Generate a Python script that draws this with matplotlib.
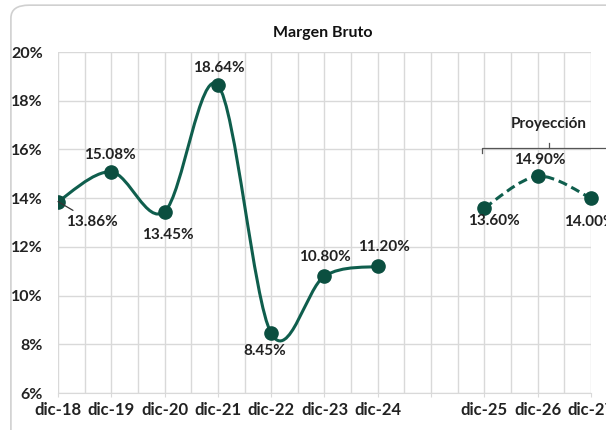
import matplotlib
matplotlib.use("Agg")
import matplotlib.pyplot as plt
from matplotlib.path import Path
from matplotlib.patches import PathPatch, FancyBboxPatch
from matplotlib.ticker import FuncFormatter, MultipleLocator

plt.rcParams['font.family'] = ['Lato', 'DejaVu Sans']

# data
categories = ["dic-18", "dic-19", "dic-20", "dic-21", "dic-22", "dic-23", "dic-24",
              "", "dic-25", "dic-26", "dic-27"]
hist_idx = [0, 1, 2, 3, 4, 5, 6]
hist_vals = [13.86, 15.08, 13.45, 18.64, 8.45, 10.80, 11.20]
proj_idx = [8, 9, 10]
proj_vals = [13.60, 14.90, 14.00]

# label offsets in pixels (dx, dy)
hist_offsets = [(34, -20), (-1, 17), (3, -23), (1, 17), (-6, -18), (0, 19), (6, 19)]
proj_offsets = [(10, -13), (2, 16), (-1, -24)]

green = "#0F5E4D"
dark = "#0B4F40"
grid_c = "#D9D9D9"


def smooth_path(xs, ys):
    # excel-like smoothed line as cubic bezier segments
    pts = list(zip(xs, ys))
    n = len(pts)
    verts = [pts[0]]
    codes = [Path.MOVETO]
    for i in range(n - 1):
        p0 = pts[i - 1] if i > 0 else pts[i]
        p1 = pts[i]
        p2 = pts[i + 1]
        p3 = pts[i + 2] if i + 2 < n else pts[i + 1]
        c1 = (p1[0] + (p2[0] - p0[0]) / 6, p1[1] + (p2[1] - p0[1]) / 6)
        c2 = (p2[0] - (p3[0] - p1[0]) / 6, p2[1] - (p3[1] - p1[1]) / 6)
        verts += [c1, c2, p2]
        codes += [Path.CURVE4] * 3
    return Path(verts, codes)


fig = plt.figure(figsize=(6.06, 4.30), dpi=100)
frame = FancyBboxPatch((0.018, -0.1), 1.2, 1.088, boxstyle="round,pad=0,rounding_size=0.03",
                       transform=fig.transFigure, fc="white", ec="#D0D0D0", lw=1.2, zorder=-10)
fig.patches.append(frame)
ax = fig.add_axes([0.0957, 0.086, 0.8795, 0.793])
ax.set_facecolor("none")

ax.set_xlim(0, 10)
ax.set_ylim(6, 20)
ax.set_xticks(range(len(categories)))
ax.set_xticklabels(categories, fontweight="bold", fontsize=12, color="#222222")
ax.xaxis.set_minor_locator(MultipleLocator(0.5))
ax.yaxis.set_major_locator(MultipleLocator(2))
ax.yaxis.set_major_formatter(FuncFormatter(lambda v, p: f"{v:.0f}%"))
for t in ax.get_yticklabels():
    t.set_fontweight("bold")
    t.set_fontsize(11.5)
    t.set_color("#222222")
ax.tick_params(axis="y", length=0, pad=11)
ax.tick_params(axis="x", which="major", length=3, color=grid_c, pad=3.5)
ax.tick_params(axis="x", which="minor", length=0)
ax.grid(True, which="both", axis="x", color=grid_c, lw=1)
ax.grid(True, which="major", axis="y", color=grid_c, lw=1)
for s in ax.spines.values():
    s.set_visible(False)
ax.spines["bottom"].set_visible(True)
ax.spines["bottom"].set_color(grid_c)
ax.set_axisbelow(True)

ax.add_patch(PathPatch(smooth_path(hist_idx, hist_vals), fc="none", ec=green, lw=2.2,
                       capstyle="round", zorder=3))
ax.add_patch(PathPatch(smooth_path(proj_idx, proj_vals), fc="none", ec=green, lw=2.2,
                       ls=(0, (3, 1.6)), zorder=3, clip_on=False))
ax.plot(hist_idx, hist_vals, "o", color=dark, ms=9.5, zorder=4)
ax.plot(proj_idx, proj_vals, "o", color=dark, ms=9.5, zorder=4, clip_on=False)

for i, (x, y) in enumerate(zip(hist_idx, hist_vals)):
    dx, dy = hist_offsets[i]
    ap = dict(arrowstyle="-", color="#333333", lw=0.9, shrinkA=2, shrinkB=0) if i == 0 else None
    ax.annotate(f"{y:.2f}%", (x, y), xytext=(dx, dy), textcoords="offset pixels",
                ha="center", va="center", fontsize=11, fontweight="bold", color="#222222",
                arrowprops=ap, annotation_clip=False, zorder=5)
for i, (x, y) in enumerate(zip(proj_idx, proj_vals)):
    dx, dy = proj_offsets[i]
    ax.annotate(f"{y:.2f}%", (x, y), xytext=(dx, dy), textcoords="offset pixels",
                ha="center", va="center", fontsize=11, fontweight="bold", color="#222222",
                annotation_clip=False, zorder=5)

# bracket for projection
bx0, bxc, bx1, by = 7.95, 9.21, 10.6, 16.05
ax.plot([bx0, bx0, bx1], [by - 0.18, by, by], color="#555555", lw=0.9, clip_on=False)
ax.plot([bxc, bxc], [by, by + 0.22], color="#555555", lw=0.9, clip_on=False)
ax.text(bxc, 17.05, "Proyección", ha="center", va="center", fontsize=11,
        fontweight="bold", color="#222222")

fig.text(0.532, 0.923, "Margen Bruto", ha="center", va="center", fontsize=11.5,
         fontweight="bold", color="#111111")

fig.savefig("out.png", dpi=100)
